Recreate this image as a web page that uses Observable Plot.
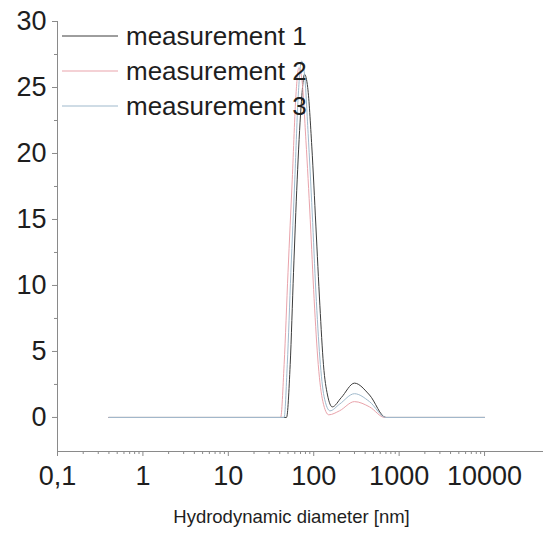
<!DOCTYPE html>
<html>
<head>
<meta charset="utf-8">
<script src="https://cdn.jsdelivr.net/npm/d3@7"></script>
<script src="https://cdn.jsdelivr.net/npm/@observablehq/plot@0.6"></script>
<style>
  html, body { margin: 0; padding: 0; background: #fff; }
  #chart svg { display: block; }
</style>
</head>
<body>
<div id="chart"></div>
<script>
// ---- data ----
const seriesNames = ["measurement 1", "measurement 2", "measurement 3"];
const seriesColors = ["#3c3c3c", "#e9a3ab", "#9fb9cc"];

const m1Diam  = [0.4, 48, 53, 58, 64, 71, 78, 85, 95, 106, 118, 130, 145, 165, 210, 300, 450, 700, 10000];
const m1Value = [0,   0,  4,  11, 18, 23.5, 26, 25, 20.5, 14.5, 8.5, 4, 1.7, 0.8, 1.5, 2.6, 1.7, 0, 0];

const m2Diam  = [0.4, 41, 45, 50, 56, 62, 67, 73, 81, 91, 101, 113, 128, 150, 200, 300, 450, 680, 10000];
const m2Value = [0,   0,  4,  11, 18, 24.5, 26.5, 25.5, 21, 15, 9, 4, 1.2, 0.2, 0.5, 1.2, 0.8, 0, 0];

const m3Diam  = [0.4, 45, 49, 54, 60, 66, 72, 78, 86, 96, 106, 118, 132, 155, 200, 300, 450, 700, 10000];
const m3Value = [0,   0,  4,  11, 18, 24.5, 27, 26, 21.5, 15.5, 9.5, 4.5, 1.6, 0.5, 1.0, 1.8, 1.2, 0, 0];

const xTickValues = [0.1, 1, 10, 100, 1000, 10000];
const xTickLabels = ["0,1", "1", "10", "100", "1000", "10000"];
const yTickValues = [0, 5, 10, 15, 20, 25, 30];
const yMinorTicks = [2.5, 7.5, 12.5, 17.5, 22.5, 27.5];
const xLabel = "Hydrodynamic diameter [nm]";

// ---- build ----
const toRows = (name, xs, ys) => xs.map((d, i) => ({series: name, diameter: d, value: ys[i]}));
const rows = [
  ...toRows(seriesNames[0], m1Diam, m1Value),
  ...toRows(seriesNames[1], m2Diam, m2Value),
  ...toRows(seriesNames[2], m3Diam, m3Value)
];
const xMinorTicks = [];
for (let e = -1; e < 4; e++) for (let k = 2; k <= 9; k++) xMinorTicks.push(k * Math.pow(10, e));

const axisColor = "#8a8a8a";
const textColor = "#1e1e1e";

const chart = Plot.plot({
  width: 543,
  height: 537,
  marginLeft: 57,
  marginRight: 0,
  marginTop: 21,
  marginBottom: 86,
  style: {fontFamily: "'Liberation Sans', Arial, sans-serif", background: "#fff", color: textColor},
  x: {type: "log", domain: [0.1, 49000]},
  y: {domain: [-2.58, 30]},
  color: {domain: seriesNames, range: seriesColors},
  marks: [
    Plot.axisX({ticks: xMinorTicks, tickSize: 3, text: null, stroke: axisColor, label: null}),
    Plot.axisX({ticks: xTickValues, tickSize: 5, tickPadding: 9, stroke: axisColor,
      tickFormat: d => xTickLabels[xTickValues.indexOf(d)], fontSize: 27, fill: textColor, label: null}),
    Plot.axisY({ticks: yMinorTicks, tickSize: 3, text: null, stroke: axisColor, label: null}),
    Plot.axisY({ticks: yTickValues, tickSize: 5, tickPadding: 6, stroke: axisColor,
      fontSize: 27, fill: textColor, label: null}),
    Plot.frame({anchor: "left", stroke: axisColor}),
    Plot.frame({anchor: "bottom", stroke: axisColor}),
    Plot.line(rows, {x: "diameter", y: "value", z: "series", stroke: "series",
      strokeWidth: 1, curve: "monotone-x"}),
    Plot.text([xLabel], {frameAnchor: "bottom", dx: -9, dy: 71, fontSize: 18.5, fill: textColor})
  ]
});

// legend drawn inside the plot area (top-left)
const svg = d3.select(chart);
const lg = svg.append("g")
  .attr("font-family", "'Liberation Sans', Arial, sans-serif")
  .attr("text-anchor", "start");
seriesNames.forEach((name, i) => {
  const cy = 36 + i * 35;
  lg.append("line").attr("x1", 62).attr("x2", 118).attr("y1", cy).attr("y2", cy)
    .attr("stroke", seriesColors[i]).attr("stroke-width", 1);
  lg.append("text").attr("x", 126).attr("y", cy).attr("dy", "0.35em")
    .attr("text-anchor", "start")
    .attr("font-size", 26).attr("fill", textColor).text(name);
});

document.getElementById("chart").appendChild(chart);
</script>
</body>
</html>
